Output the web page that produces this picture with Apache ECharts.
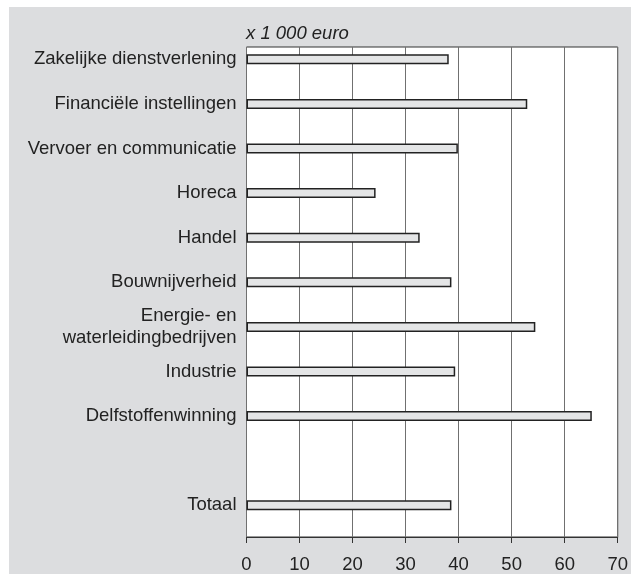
<!DOCTYPE html>
<html>
<head>
<meta charset="utf-8">
<script src="https://cdn.jsdelivr.net/npm/echarts@6/dist/echarts.min.js"></script>
<style>
  html, body { margin: 0; padding: 0; background: #fff; }
  #wrap { position: absolute; left: 9px; top: 7px; width: 622px; height: 567px; background: #dcdddf; }
  #chart { width: 622px; height: 567px; }
</style>
</head>
<body>
<div id="wrap"><div id="chart"></div></div>
<script>
// sectoren, van boven naar beneden (lege rij tussen Delfstoffenwinning en Totaal)
var sectors = [
    'Zakelijke dienstverlening',
    'Financiële instellingen',
    'Vervoer en communicatie',
    'Horeca',
    'Handel',
    'Bouwnijverheid',
    'Energie- en\nwaterleidingbedrijven',
    'Industrie',
    'Delfstoffenwinning',
    '',
    'Totaal'
];
// x 1 000 euro
var values = [37.6, 52.2, 39.3, 24.0, 32.2, 38.1, 53.7, 38.8, 64.2, '-', 38.1];
var xTicks = [0, 10, 20, 30, 40, 50, 60, 70];

var font = "'Liberation Sans', Arial, Helvetica, sans-serif";
var fs = 18.5;
var chart = echarts.init(document.getElementById('chart'));

chart.setOption({
    animation: false,
    title: {
        text: 'x 1 000 euro',
        left: 232,
        top: 12,
        textStyle: { fontFamily: font, fontSize: fs, fontStyle: 'italic', fontWeight: 'normal', color: '#222' }
    },
    grid: [
        // bars + category labels
        { left: 237.5, top: 30, width: 376.5, height: 490.6, containLabel: false },
        // frame, gridlines and value axis
        { left: 237.5, top: 40, width: 376.5, height: 490, containLabel: false,
          show: true, backgroundColor: '#fff', borderColor: '#333', borderWidth: 1 }
    ],
    xAxis: [
        { gridIndex: 0, type: 'value', min: xTicks[0], max: xTicks[xTicks.length - 1], interval: 10, show: false },
        {
            gridIndex: 1, type: 'value', min: xTicks[0], max: xTicks[xTicks.length - 1], interval: 10,
            axisLine: { show: true, lineStyle: { color: '#333', width: 1 } },
            axisTick: { show: true, length: 6, lineStyle: { color: '#333' } },
            axisLabel: { margin: 18, fontFamily: font, fontSize: fs, color: '#222' },
            splitLine: { show: true, lineStyle: { color: '#707070', width: 1 } }
        }
    ],
    yAxis: [
        {
            gridIndex: 0, type: 'category', data: sectors, inverse: true,
            axisLine: { show: false },
            axisTick: { show: false },
            axisLabel: { margin: 10, fontFamily: font, fontSize: fs, color: '#222', lineHeight: 22 },
            splitLine: { show: false }
        },
        { gridIndex: 1, type: 'value', show: false, splitLine: { show: false } }
    ],
    series: [
        {
            type: 'bar',
            xAxisIndex: 0,
            yAxisIndex: 0,
            data: values,
            barWidth: 10,
            itemStyle: { color: '#e4e5e6', borderColor: '#222', borderWidth: 1.5 },
            z: 5
        }
    ]
});
</script>
</body>
</html>
